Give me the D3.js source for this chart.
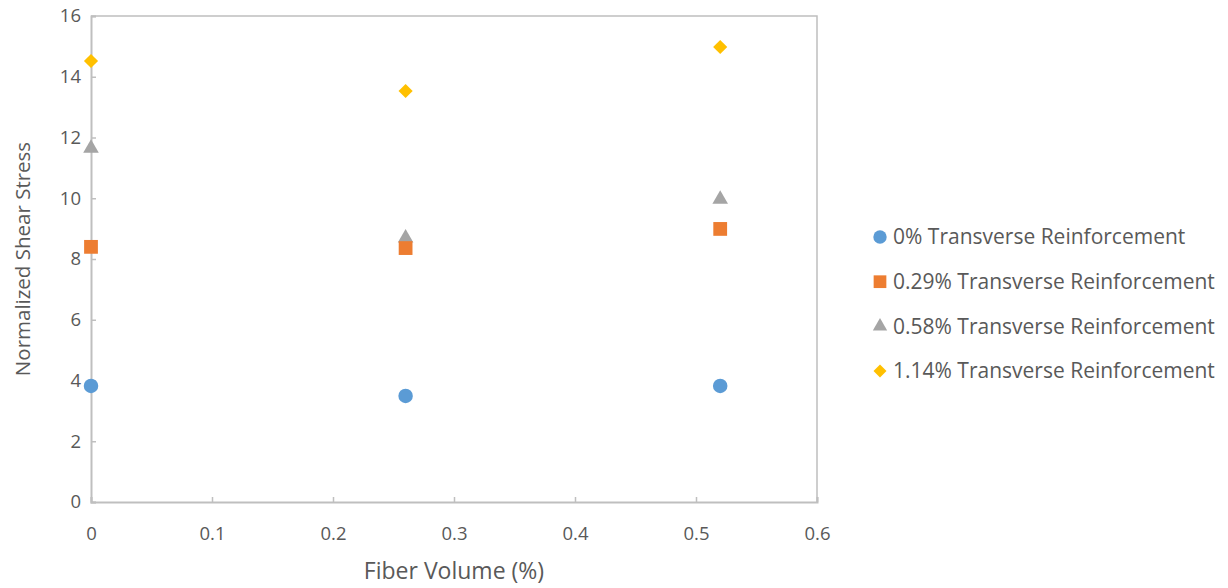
<!DOCTYPE html>
<html>
<head>
<meta charset="utf-8">
<script src="https://cdn.jsdelivr.net/npm/d3@7"></script>
<style>
  body { margin: 0; background: #fff; }
  svg { display: block; font-family: "Open Sans", "Liberation Sans", sans-serif; }
</style>
</head>
<body>
<svg id="chart" width="1228" height="588"></svg>
<script>
// Fiber volume (%) for each test group
const fiberVolume = [0, 0.26, 0.52];

// Normalized shear stress per transverse reinforcement ratio
const series0 = [3.82, 3.49, 3.82];
const series029 = [8.40, 8.36, 8.99];
const series058 = [11.65, 8.69, 9.97];
const series114 = [14.52, 13.53, 14.98];

const seriesNames = [
  "0% Transverse Reinforcement",
  "0.29% Transverse Reinforcement",
  "0.58% Transverse Reinforcement",
  "1.14% Transverse Reinforcement"
];
const xTicks = [0, 0.1, 0.2, 0.3, 0.4, 0.5, 0.6];
const yTicks = [0, 2, 4, 6, 8, 10, 12, 14, 16];

// diamond drawn as a square turned 45 degrees
const series = [
  { name: seriesNames[0], values: series0, color: "#5B9BD5", symbol: d3.symbolCircle, size: 165, rot: 0 },
  { name: seriesNames[1], values: series029, color: "#ED7D31", symbol: d3.symbolSquare, size: 190, rot: 0 },
  { name: seriesNames[2], values: series058, color: "#A5A5A5", symbol: d3.symbolTriangle, size: 105, rot: 0 },
  { name: seriesNames[3], values: series114, color: "#FFC000", symbol: d3.symbolSquare, size: 100, rot: 45 }
];

const svg = d3.select("#chart");
const plotLeft = 91, plotRight = 817, plotTop = 16, plotBottom = 502;
const fontStack = '"Open Sans", "Liberation Sans", sans-serif';

const x = d3.scaleLinear().domain([0, 0.6]).range([plotLeft, plotRight]);
const y = d3.scaleLinear().domain([0, 16]).range([plotBottom, plotTop]);

const axisColor = "#BFBFBF";
const textColor = "#595959";

// plot area border (top and right)
svg.append("path")
  .attr("d", `M${plotLeft},${plotTop}H${plotRight}V${plotBottom}`)
  .attr("fill", "none")
  .attr("stroke", axisColor)
  .attr("stroke-width", 1.5);

// x axis with inward ticks
const xAxis = svg.append("g")
  .attr("transform", `translate(0,${plotBottom})`)
  .call(d3.axisBottom(x).tickValues(xTicks).tickSize(-5).tickPadding(25)
    .tickFormat(d => d === 0 ? "0" : d3.format(".1f")(d)))
  .attr("font-family", fontStack);
xAxis.select(".domain").attr("stroke", axisColor).attr("stroke-width", 2);
xAxis.selectAll(".tick line").attr("stroke", axisColor).attr("stroke-width", 1.5);
xAxis.selectAll(".tick text").attr("fill", textColor).attr("font-size", 18.5);

// y axis with inward ticks
const yAxis = svg.append("g")
  .attr("transform", `translate(${plotLeft},0)`)
  .call(d3.axisLeft(y).tickValues(yTicks).tickSize(-5).tickPadding(10))
  .attr("font-family", fontStack);
yAxis.select(".domain").attr("stroke", axisColor).attr("stroke-width", 2);
yAxis.selectAll(".tick line").attr("stroke", axisColor).attr("stroke-width", 1.5);
yAxis.selectAll(".tick text").attr("fill", textColor).attr("font-size", 18.5);

// axis titles
svg.append("text")
  .attr("x", 454).attr("y", 579)
  .attr("text-anchor", "middle")
  .attr("fill", textColor).attr("font-size", 23)
  .text("Fiber Volume (%)");

svg.append("text")
  .attr("transform", `translate(30,${(plotTop + plotBottom) / 2}) rotate(-90)`)
  .attr("text-anchor", "middle")
  .attr("fill", textColor).attr("font-size", 20.5)
  .text("Normalized Shear Stress");

// markers (later series drawn first so earlier ones sit on top)
const marks = svg.append("g");
series.slice().reverse().forEach(s => {
  const sym = d3.symbol().type(s.symbol).size(s.size);
  marks.selectAll(null)
    .data(fiberVolume.map((fv, i) => ({ fv, v: s.values[i] })))
    .join("path")
    .attr("d", sym)
    .attr("transform", d => `translate(${x(d.fv)},${y(d.v)}) rotate(${s.rot})`)
    .attr("fill", s.color);
});

// legend
const legend = svg.append("g");
series.forEach((s, i) => {
  const gy = 237 + i * 44.7;
  legend.append("path")
    .attr("d", d3.symbol().type(s.symbol).size(s.size * 0.85)())
    .attr("transform", `translate(880,${gy}) rotate(${s.rot})`)
    .attr("fill", s.color);
  legend.append("text")
    .attr("x", 893).attr("y", gy)
    .attr("dy", "0.35em")
    .attr("fill", textColor).attr("font-size", 21)
    .text(s.name);
});
</script>
</body>
</html>
